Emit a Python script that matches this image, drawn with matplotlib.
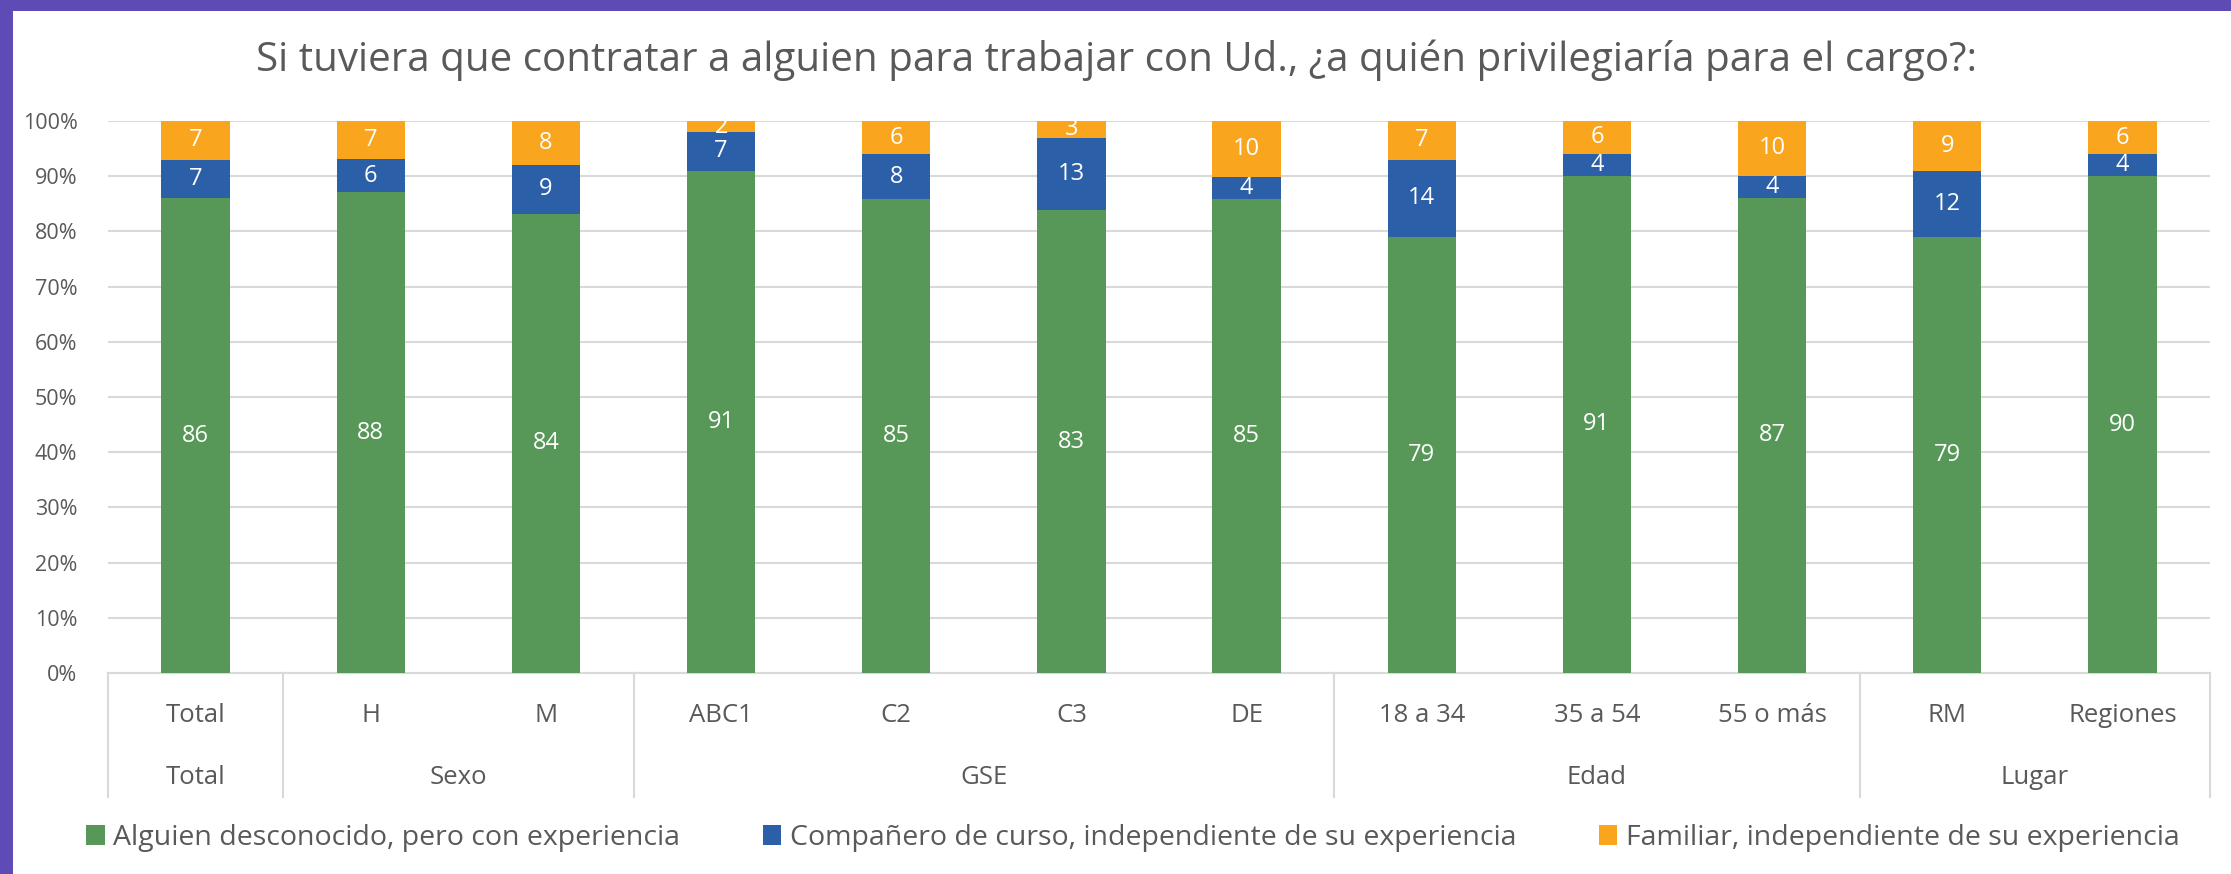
import matplotlib
matplotlib.use("Agg")
import matplotlib.pyplot as plt
import numpy as np
from matplotlib.patches import Rectangle
from matplotlib.lines import Line2D
import matplotlib.transforms as mtransforms

# ---- data ----
categories = ["Total", "H", "M", "ABC1", "C2", "C3", "DE", "18 a 34", "35 a 54", "55 o más", "RM", "Regiones"]
groups = ["Total", "Sexo", "GSE", "Edad", "Lugar"]
group_sizes = [1, 2, 4, 3, 2]
desconocido = [86, 88, 84, 91, 85, 83, 85, 79, 91, 87, 79, 90]
companero = [7, 6, 9, 7, 8, 13, 4, 14, 4, 4, 12, 4]
familiar = [7, 7, 8, 2, 6, 3, 10, 7, 6, 10, 9, 6]
series_names = ["Alguien desconocido, pero con experiencia",
                "Compañero de curso, independiente de su experiencia",
                "Familiar, independiente de su experiencia"]
title = "Si tuviera que contratar a alguien para trabajar con Ud., ¿a quién privilegiaría para el cargo?:"

colors = ["#579859", "#2B5FA8", "#F9A51E"]
FONT = "Open Sans"
GRAY = "#595959"

W, H = 2231, 874
fig = plt.figure(figsize=(W / 100, H / 100), dpi=100)
fig.patch.set_facecolor("#5E4BB5")
# white card behind everything
fig.patches.append(Rectangle((13 / W, 0), 1 - 13 / W, 1 - 11 / H, transform=fig.transFigure,
                             facecolor="white", edgecolor="none", zorder=-10))

ax = fig.add_axes([108 / W, 1 - 673 / H, (2210 - 108) / W, (673 - 121) / H])
ax.set_zorder(1)
ax.set_facecolor("white")

series = np.array([desconocido, companero, familiar], dtype=float)
totals = series.sum(axis=0)
shares = series / totals
x = np.arange(len(categories))
bottom = np.zeros(len(categories))
for i in range(3):
    ax.bar(x, shares[i], bottom=bottom, width=0.39, color=colors[i], label=series_names[i], zorder=3)
    for j in range(len(categories)):
        ax.text(x[j], bottom[j] + shares[i][j] / 2, f"{int(series[i][j])}", ha="center", va="center",
                color="white", fontsize=17, family=FONT, zorder=4)
    bottom += shares[i]

ax.set_xlim(-0.5, len(categories) - 0.5)
ax.set_ylim(0, 1)
ax.set_yticks(np.linspace(0, 1, 11))
ax.set_yticklabels([f"{int(v)}%" for v in np.linspace(0, 100, 11)], family=FONT, fontsize=15.5, color=GRAY)
ax.tick_params(axis="y", length=0, pad=22)
ax.set_xticks([])
ax.grid(axis="y", color="#D9D9D9", linewidth=1.5, zorder=0)
for s in ["top", "right", "left"]:
    ax.spines[s].set_visible(False)
ax.spines["bottom"].set_color("#D9D9D9")
ax.spines["bottom"].set_linewidth(1.5)

trans = mtransforms.blended_transform_factory(ax.transData, fig.transFigure)
y_cat = 1 - 716 / H
y_grp = 1 - 777 / H
y_line_bot = 1 - 797 / H
y_axis = 1 - 673 / H
for j, c in enumerate(categories):
    ax.text(x[j], y_cat, c, transform=trans, ha="center", va="center", fontsize=18.5,
            family=FONT, color=GRAY)
start = 0
bounds = [-0.5]
for g, n in zip(groups, group_sizes):
    center = start + (n - 1) / 2
    ax.text(center, y_grp, g, transform=trans, ha="center", va="center", fontsize=18.5,
            family=FONT, color=GRAY)
    start += n
    bounds.append(start - 0.5)
for b in bounds:
    ax.add_line(Line2D([b, b], [y_axis, y_line_bot], transform=trans, color="#D9D9D9",
                       linewidth=1.5, clip_on=False))

fig.text(1117 / W, 1 - 60 / H, title, ha="center", va="center", fontsize=29, family=FONT, color=GRAY)

handles, labels = ax.get_legend_handles_labels()
leg = fig.legend(handles, labels, loc="center", bbox_to_anchor=(1133 / W, 1 - 838 / H), ncol=3,
                 frameon=False, prop={"family": FONT, "size": 20.5}, handlelength=0.65, handleheight=0.65,
                 handletextpad=0.3, columnspacing=2.9, labelcolor=GRAY)

fig.savefig("out.png", dpi=100)
